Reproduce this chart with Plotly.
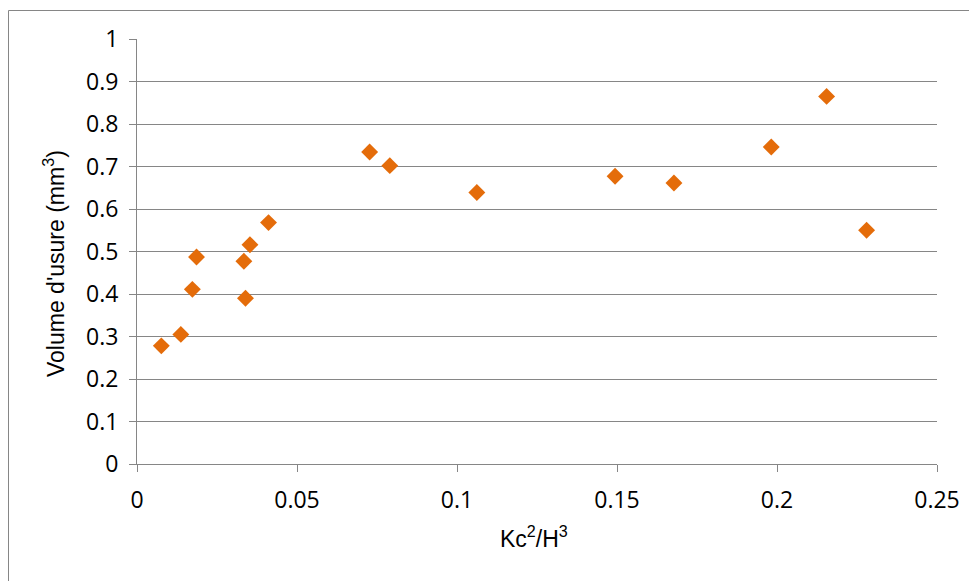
import plotly.graph_objects as go

# Data
kc2_h3 = [0.0076, 0.0137, 0.0173, 0.0186, 0.0334, 0.0339, 0.0353, 0.0411,
          0.0727, 0.0790, 0.1062, 0.1494, 0.1678, 0.1982, 0.2155, 0.2280]
volume_usure = [0.278, 0.305, 0.411, 0.487, 0.477, 0.390, 0.516, 0.568,
                0.734, 0.702, 0.639, 0.677, 0.661, 0.746, 0.865, 0.550]

x_ticks = [0, 0.05, 0.1, 0.15, 0.2, 0.25]
x_ticklabels = ["0", "0.05", "0.1", "0.15", "0.2", "0.25"]
y_ticks = [0, 0.1, 0.2, 0.3, 0.4, 0.5, 0.6, 0.7, 0.8, 0.9, 1]
y_ticklabels = ["0", "0.1", "0.2", "0.3", "0.4", "0.5", "0.6", "0.7", "0.8", "0.9", "1"]

x_title = "Kc<sup>2</sup>/H<sup>3</sup>"
y_title = "Volume d'usure (mm<sup>3</sup>)"

# page has an 8px body margin, so the figure is sized/offset accordingly
OFF = 8
W, H = 977 - OFF, 581 - OFF
ML, MR, MT, MB = 137 - OFF, 40, 39 - OFF, 117
PW, PH = W - ML - MR, H - MT - MB

grid = "#868686"
tick_font = dict(family="Open Sans, sans-serif", size=23, color="#000000")
title_font = dict(family="Liberation Sans, Arial, sans-serif", size=23, color="#000000")


def px_x(page_x):
    return (page_x - OFF - ML) / PW


def px_y(page_y):
    return (H - MB - (page_y - OFF)) / PH


fig = go.Figure()
fig.add_trace(go.Scatter(
    x=kc2_h3, y=volume_usure, mode="markers",
    marker=dict(symbol="diamond", size=13, color="#E46C0A", line=dict(width=0)),
    showlegend=False, cliponaxis=False,
))

fig.update_layout(
    width=W, height=H,
    margin=dict(l=ML, r=MR, t=MT, b=MB, pad=0),
    paper_bgcolor="white", plot_bgcolor="white",
    xaxis=dict(
        range=[0, 0.25], tickvals=x_ticks, ticktext=x_ticklabels,
        showgrid=False, zeroline=False, showline=True, linecolor=grid, linewidth=1,
        ticks="outside", ticklen=7, tickcolor=grid, tickwidth=1,
        tickfont=tick_font, ticklabelstandoff=8,
    ),
    yaxis=dict(
        range=[0, 1], tickvals=y_ticks, ticktext=y_ticklabels,
        showgrid=True, gridcolor=grid, gridwidth=1, zeroline=False,
        showline=True, linecolor=grid, linewidth=1,
        ticks="outside", ticklen=7, tickcolor=grid, tickwidth=1,
        tickfont=tick_font, ticklabelstandoff=6,
    ),
    annotations=[
        dict(text=x_title, xref="paper", yref="paper",
             x=px_x(534), y=px_y(537),
             xanchor="center", yanchor="middle", showarrow=False, font=title_font),
        dict(text=y_title, xref="paper", yref="paper",
             x=px_x(54), y=px_y(264), textangle=-90,
             xanchor="center", yanchor="middle", showarrow=False, font=title_font),
    ],
    shapes=[
        dict(type="rect", xref="paper", yref="paper",
             x0=px_x(8.5), y0=px_y(620),
             x1=px_x(1020), y1=px_y(10.5),
             line=dict(color=grid, width=1), fillcolor="rgba(0,0,0,0)", layer="below"),
    ],
)

fig.write_html("out.html")
